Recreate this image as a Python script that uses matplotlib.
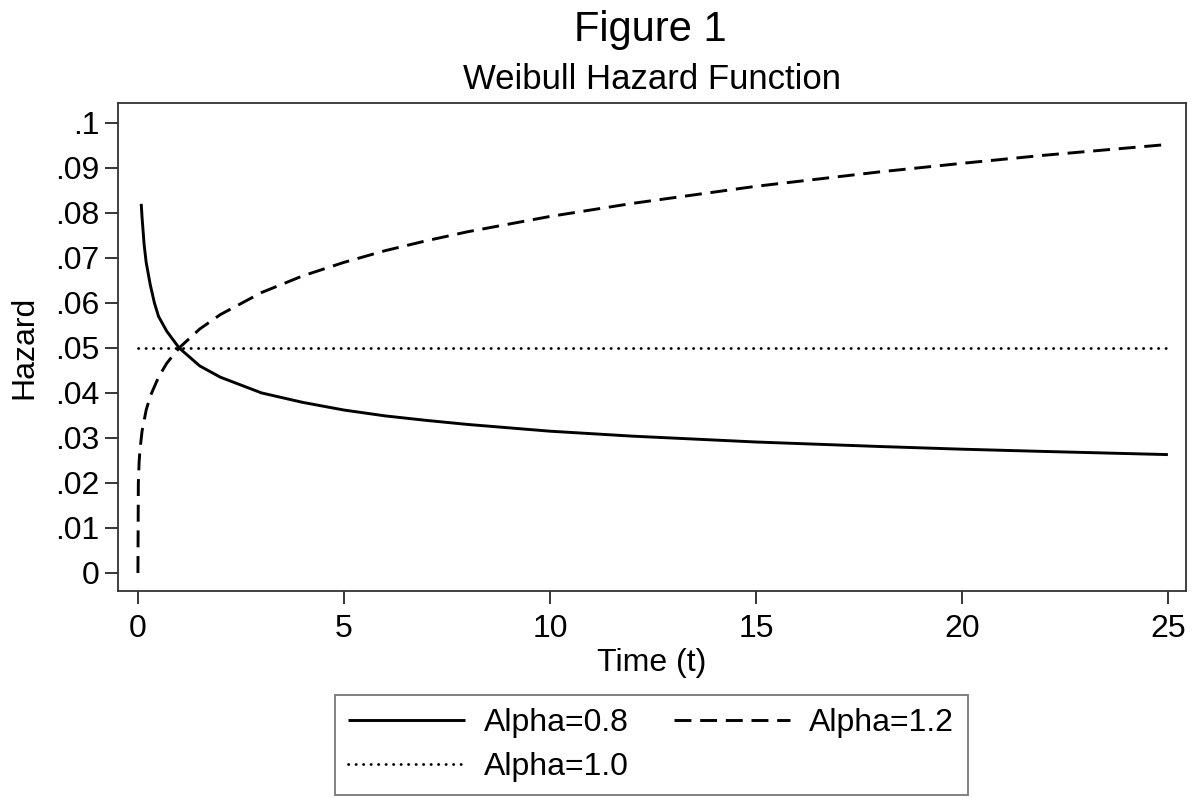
import matplotlib.pyplot as plt
import matplotlib
import numpy as np

matplotlib.rcParams['font.family'] = ['Liberation Sans', 'DejaVu Sans']

# values
t_a08 = [0.08, 0.1, 0.15, 0.2, 0.3, 0.4, 0.5, 0.7, 1, 1.5, 2, 3, 4, 5, 6, 7, 8,
         10, 12, 15, 18, 20, 22, 25]
h_a08 = [0.082, 0.079, 0.073, 0.069, 0.064, 0.060, 0.057, 0.0537, 0.050, 0.046,
         0.0435, 0.040, 0.0379, 0.0362, 0.0349, 0.0339, 0.033, 0.0315, 0.0304,
         0.0291, 0.0281, 0.0275, 0.0270, 0.0263]

t_a12 = [0, 0.01, 0.03, 0.05, 0.1, 0.2, 0.3, 0.5, 0.7, 1, 1.5, 2, 3, 4, 5, 6, 7,
         8, 10, 12, 15, 18, 20, 22, 25]
h_a12 = [0.0, 0.0200, 0.0248, 0.0274, 0.0315, 0.0362, 0.0393, 0.0435, 0.0466,
         0.050, 0.0542, 0.0574, 0.0623, 0.066, 0.069, 0.0716, 0.0738, 0.0758,
         0.0792, 0.0821, 0.0859, 0.0891, 0.0910, 0.0928, 0.0952]

t_a10 = [0, 5, 10, 15, 20, 25]
h_a10 = [0.05, 0.05, 0.05, 0.05, 0.05, 0.05]

x_ticks = [0, 5, 10, 15, 20, 25]
y_ticks = [0, 0.01, 0.02, 0.03, 0.04, 0.05, 0.06, 0.07, 0.08, 0.09, 0.1]
y_ticklabels = ['0', '.01', '.02', '.03', '.04', '.05', '.06', '.07', '.08', '.09', '.1']

fig = plt.figure(figsize=(11.95, 7.98), dpi=100)
ax = fig.add_axes([0.0987, 0.2594, 0.8938, 0.6115])

l08, = ax.plot(t_a08, h_a08, color='black', lw=2.1, solid_capstyle='butt', label='Alpha=0.8')
l12, = ax.plot(t_a12, h_a12, color='black', lw=2.1, dashes=(5.8, 3.0), label='Alpha=1.2')
l10, = ax.plot(t_a10, h_a10, color='black', lw=2.0, linestyle=(0, (0.1, 2.6)),
               dash_capstyle='round', label='Alpha=1.0')

ax.set_xlim(-0.485, 25.44)
ax.set_ylim(-0.004, 0.1044)
ax.set_xticks(x_ticks)
ax.set_xticklabels([str(v) for v in x_ticks])
ax.set_yticks(y_ticks)
ax.set_yticklabels(y_ticklabels)
ax.tick_params(axis='both', direction='out', length=9.5, width=1.1, labelsize=23)
ax.tick_params(axis='x', pad=7)
ax.tick_params(axis='y', pad=4)
for s in ax.spines.values():
    s.set_linewidth(1.3)
    s.set_color('#333333')

ax.set_xlabel('Time (t)', fontsize=23, labelpad=3)
ax.set_ylabel('Hazard', fontsize=23, labelpad=11)

fig.text(0.544, 0.948, 'Figure 1', ha='center', va='baseline', fontsize=30)
fig.text(0.546, 0.889, 'Weibull Hazard Function', ha='center', va='baseline', fontsize=25)

leg = fig.legend(handles=[l08, l10, l12], ncol=2, loc='upper center',
                 bbox_to_anchor=(0.545, 1 - 695 / 798), fontsize=23,
                 frameon=True, fancybox=False, edgecolor='#555555',
                 handlelength=3.65, handletextpad=0.6, columnspacing=1.4,
                 borderpad=0.42, labelspacing=0.42, borderaxespad=0)
leg.get_frame().set_linewidth(1.3)

fig.savefig('out.png', dpi=100, facecolor='white')
